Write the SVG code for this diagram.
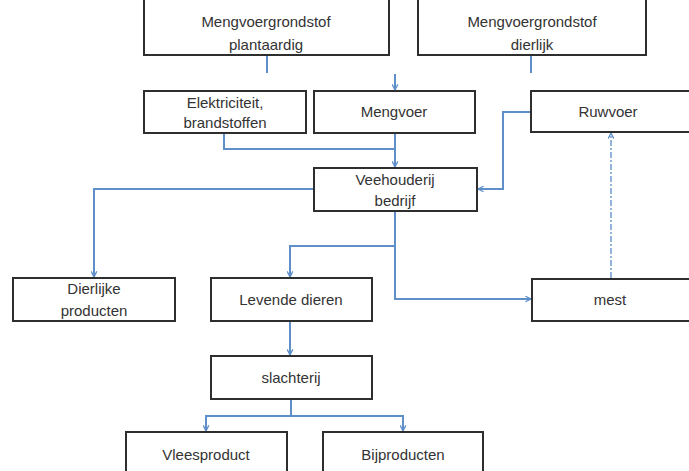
<svg xmlns="http://www.w3.org/2000/svg" width="689" height="471" viewBox="0 0 689 471">
<style>
.box{fill:#fff;stroke:#2e2e2e;stroke-width:2}
.t{font-family:"Liberation Sans",Arial,sans-serif;font-size:15px;fill:#333;text-anchor:middle}
.c{fill:none;stroke:#5f8fc9;stroke-width:2}
.d{fill:none;stroke:#6f9bd0;stroke-width:1.5;stroke-dasharray:6 2 2 2}
</style>
<defs>
<marker id="a" viewBox="0 0 10 10" refX="9" refY="5" markerWidth="7" markerHeight="7" orient="auto" markerUnits="userSpaceOnUse">
<path d="M1,1 L9,5 L1,9" fill="none" stroke="#5f8fc9" stroke-width="1.8"/>
</marker>
</defs>
<rect width="689" height="471" fill="#fff"/>
<g id="connectors">
<line class="c" x1="267" y1="56" x2="267" y2="73"/>
<line class="c" x1="531" y1="56" x2="531" y2="73"/>
<line class="c" x1="395" y1="74" x2="395" y2="90" marker-end="url(#a)"/>
<polyline class="c" points="224,134 224,149 395,149"/>
<line class="c" x1="395" y1="134" x2="395" y2="167" marker-end="url(#a)"/>
<polyline class="c" points="531,112 503,112 503,189 478,189" marker-end="url(#a)"/>
<polyline class="c" points="314,189 94,189 94,277" marker-end="url(#a)"/>
<polyline class="c" points="395,212 395,246 290,246 290,277" marker-end="url(#a)"/>
<polyline class="c" points="395,246 395,299 531,299" marker-end="url(#a)"/>
<line class="d" x1="611" y1="278" x2="611" y2="133" marker-end="url(#a)"/>
<line class="c" x1="290" y1="322" x2="290" y2="355" marker-end="url(#a)"/>
<polyline class="c" points="291,400 291,416"/>
<polyline class="c" points="206,431 206,416 403,416 403,431" marker-end="url(#a)"/>
<line class="c" x1="206" y1="416" x2="206" y2="431" marker-end="url(#a)"/>
</g>
<g id="n1"><rect class="box" x="144" y="-10" width="245" height="65"/>
<text class="t" x="266" y="27">Mengvoergrondstof</text><text class="t" x="266" y="50">plantaardig</text></g>
<g id="n2"><rect class="box" x="418" y="-10" width="228" height="65"/>
<text class="t" x="532" y="27">Mengvoergrondstof</text><text class="t" x="532" y="50">dierlijk</text></g>
<g id="n3"><rect class="box" x="144" y="91" width="162" height="42"/>
<text class="t" x="225" y="108">Elektriciteit,</text><text class="t" x="225" y="128">brandstoffen</text></g>
<g id="n4"><rect class="box" x="314" y="91" width="161" height="42"/>
<text class="t" x="394" y="117">Mengvoer</text></g>
<g id="n5"><rect class="box" x="531" y="91" width="170" height="41"/>
<text class="t" x="608" y="117" fill="#555">Ruwvoer</text></g>
<g id="n6"><rect class="box" x="314" y="168" width="163" height="43"/>
<text class="t" x="395" y="185">Veehouderij</text><text class="t" x="395" y="206">bedrijf</text></g>
<g id="n7"><rect class="box" x="13" y="278" width="162" height="43"/>
<text class="t" x="94" y="294">Dierlijke</text><text class="t" x="94" y="316">producten</text></g>
<g id="n8"><rect class="box" x="211" y="278" width="161" height="43"/>
<text class="t" x="291" y="305">Levende dieren</text></g>
<g id="n9"><rect class="box" x="532" y="279" width="170" height="42"/>
<text class="t" x="610" y="305">mest</text></g>
<g id="n10"><rect class="box" x="211" y="356" width="161" height="43"/>
<text class="t" x="291" y="383">slachterij</text></g>
<g id="n11"><rect class="box" x="126" y="432" width="161" height="50"/>
<text class="t" x="206" y="460">Vleesproduct</text></g>
<g id="n12"><rect class="box" x="323" y="432" width="160" height="50"/>
<text class="t" x="403" y="460">Bijproducten</text></g>
</svg>
